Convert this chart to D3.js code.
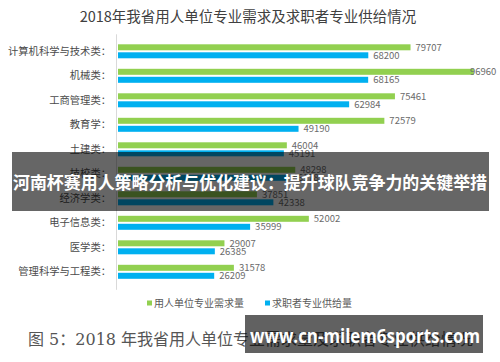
<!DOCTYPE html>
<html>
<head>
<meta charset="utf-8">
<script src="https://cdn.jsdelivr.net/npm/d3@7"></script>
<style>
  body { margin: 0; background: #fff; }
  svg text { font-family: "Noto Sans CJK SC", "Noto Sans", sans-serif; }
</style>
</head>
<body>
<div id="chart"></div>
<script>
// categories top to bottom
const categories = ['计算机科学与技术类', '机械类', '工商管理类', '教育学', '土建类',
  '技校类', '经济学类', '电子信息类', '医学类', '管理科学与工程类'];
const demand = [79707, 96960, 75461, 72579, 46004, 48298, 37851, 52002, 29007, 31578];
const supply = [68200, 68165, 62984, 49190, 45191, 46178, 42338, 35999, 26385, 26209];
const seriesNames = ['用人单位专业需求量', '求职者专业供给量'];
const colors = ['#92d050', '#00b0f0'];

const w = 500;
const h = 362;

const svg = d3.select('#chart')
  .append('svg')
  .attr('width', w)
  .attr('height', h);

svg.append('text')
  .attr('x', 248)
  .attr('y', 22)
  .attr('text-anchor', 'middle')
  .attr('font-size', 14.5)
  .attr('fill', '#404040')
  .text('2018年我省用人单位专业需求及求职者专业供给情况');

const xScale = d3.scaleLinear()
  .domain([0, 100000])
  .range([118, 485]);

const yScale = d3.scaleBand()
  .domain(categories)
  .range([33.8, 289.3])
  .padding(0.4286);

const ySub = d3.scaleBand()
  .domain([0, 1])
  .range([0, yScale.bandwidth()])
  .paddingInner(0.25);

// rows: one group per category
const rows = categories.map((c, i) => ({ cat: c, vals: [demand[i], supply[i]] }));

const g = svg.selectAll('g.row')
  .data(rows)
  .enter()
  .append('g')
  .attr('class', 'row')
  .attr('transform', d => 'translate(0,' + yScale(d.cat) + ')');

g.selectAll('rect')
  .data(d => d.vals)
  .enter()
  .append('rect')
  .attr('x', xScale(0))
  .attr('y', (d, i) => ySub(i))
  .attr('width', d => xScale(d) - xScale(0))
  .attr('height', ySub.bandwidth())
  .attr('fill', (d, i) => colors[i]);

// value labels, pulled back inside the frame when the bar is too long
g.selectAll('text.val')
  .data(d => d.vals)
  .enter()
  .append('text')
  .attr('class', 'val')
  .attr('x', d => Math.min(xScale(d) + 5, 470))
  .attr('y', (d, i) => ySub(i) + ySub.bandwidth() / 2)
  .attr('dy', '0.35em')
  .attr('font-size', 9.5)
  .attr('fill', '#6a6a6a')
  .text(d => d);

// category axis
const yAxis = d3.axisLeft(yScale)
  .tickSize(0)
  .tickPadding(5)
  .tickFormat(d => d + '：');

const ax = svg.append('g')
  .attr('transform', 'translate(116,0)')
  .call(yAxis);
ax.select('.domain').attr('stroke', '#d9d9d9');
ax.selectAll('text')
  .attr('font-size', 10.3)
  .attr('fill', '#4a4a4a')
  .style('font-family', '"Noto Sans CJK SC", sans-serif');

// legend
const legend = svg.append('g');
const legendX = [147, 265];
seriesNames.forEach((n, i) => {
  legend.append('rect')
    .attr('x', legendX[i])
    .attr('y', 300.5)
    .attr('width', 5)
    .attr('height', 5)
    .attr('fill', colors[i]);
  legend.append('text')
    .attr('x', legendX[i] + 7)
    .attr('y', 303)
    .attr('dy', '0.35em')
    .attr('font-size', 10)
    .attr('fill', '#595959')
    .text(n);
});

// figure caption
svg.append('text')
  .attr('x', 28)
  .attr('y', 345)
  .attr('font-size', 16)
  .attr('fill', '#555')
  .style('font-family', '"DejaVu Serif", "Liberation Serif", "Noto Sans CJK SC", serif')
  .text('图 5：2018 年我省用人单位专业需求量及求职者专业供给情况');

// overlay banner
svg.append('rect')
  .attr('x', 12)
  .attr('y', 152)
  .attr('width', 477)
  .attr('height', 59)
  .attr('fill', 'rgba(0,0,0,0.6)');
svg.append('text')
  .attr('x', 250)
  .attr('y', 183)
  .attr('dy', '0.35em')
  .attr('text-anchor', 'middle')
  .attr('font-size', 17.5)
  .attr('font-weight', 'bold')
  .attr('fill', '#fff')
  .attr('textLength', 474)
  .attr('lengthAdjust', 'spacingAndGlyphs')
  .text('河南杯赛用人策略分析与优化建议：提升球队竞争力的关键举措');

// watermark
svg.append('rect')
  .attr('x', 245)
  .attr('y', 315)
  .attr('width', 238)
  .attr('height', 38)
  .attr('fill', 'rgba(0,0,0,0.62)');
svg.append('text')
  .attr('x', 365)
  .attr('y', 336)
  .attr('dy', '0.35em')
  .attr('text-anchor', 'middle')
  .attr('font-size', 19)
  .attr('font-weight', 'bold')
  .attr('fill', '#fff')
  .attr('textLength', 230)
  .attr('lengthAdjust', 'spacingAndGlyphs')
  .style('font-family', '"Open Sans", "DejaVu Sans", sans-serif')
  .text('www.cn-milem6sports.com');
</script>
</body>
</html>
